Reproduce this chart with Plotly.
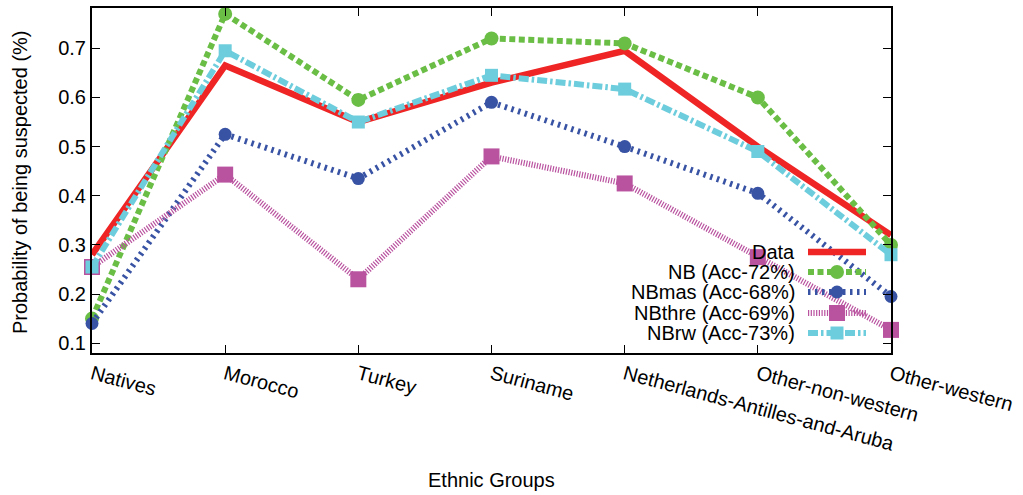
import plotly.graph_objects as go

categories = ["Natives", "Morocco", "Turkey", "Suriname",
              "Netherlands-Antilles-and-Aruba", "Other-non-western", "Other-western"]
data_vals = [0.28, 0.665, 0.55, 0.63, 0.695, 0.50, 0.32]
nb_vals = [0.15, 0.77, 0.595, 0.72, 0.71, 0.60, 0.30]
nbmas_vals = [0.14, 0.525, 0.435, 0.59, 0.50, 0.405, 0.195]
nbthre_vals = [0.255, 0.443, 0.23, 0.48, 0.425, 0.275, 0.127]
nbrw_vals = [0.255, 0.695, 0.55, 0.645, 0.617, 0.49, 0.28]
series_names = ["Data", "NB (Acc-72%)", "NBmas (Acc-68%)", "NBthre (Acc-69%)", "NBrw (Acc-73%)"]
y_ticks = [0.1, 0.2, 0.3, 0.4, 0.5, 0.6, 0.7]

styles = [
    dict(color="#ee2524", width=6.5, dash="solid", symbol=None, msize=0),
    dict(color="#6abd45", width=6, dash="6px,3.5px", symbol="circle", msize=14),
    dict(color="#3953a4", width=6, dash="2.5px,4.5px", symbol="circle", msize=13),
    dict(color="#b9529f", width=6, dash="1.2px,1.5px", symbol="square", msize=16),
    dict(color="#6dcddc", width=6, dash="10px,3px,2.5px,3px", symbol="square", msize=13),
]
all_vals = [data_vals, nb_vals, nbmas_vals, nbthre_vals, nbrw_vals]

FONT = "Liberation Sans, Arial, Helvetica, sans-serif"
fig = go.Figure()
xs = list(range(len(categories)))
for name, vals, st in zip(series_names, all_vals, styles):
    mode = "lines" if st["symbol"] is None else "lines+markers"
    fig.add_trace(go.Scatter(
        x=xs, y=vals, name=name, mode=mode, cliponaxis=False,
        line=dict(color=st["color"], width=st["width"], dash=st["dash"]),
        marker=dict(symbol=st["symbol"] or "circle", size=st["msize"], color=st["color"]),
        showlegend=False))

# custom legend (gnuplot style: text right-aligned, sample on the right)
L, R, T, B = 92, 891, 8, 353
W, H = R - L, B - T
row_y = [252, 272, 292, 313, 333]
for i, (name, st) in enumerate(zip(series_names, styles)):
    yy = (B - row_y[i]) / H
    x0, x1, xm = (808 - L) / W, (866 - L) / W, (837 - L) / W
    fig.add_trace(go.Scatter(
        x=[x0, x1], y=[yy, yy], mode="lines", xaxis="x2", yaxis="y2",
        line=dict(color=st["color"], width=st["width"], dash=st["dash"]),
        showlegend=False, hoverinfo="skip"))
    if st["symbol"]:
        fig.add_trace(go.Scatter(
            x=[xm], y=[yy], mode="markers", xaxis="x2", yaxis="y2",
            marker=dict(symbol=st["symbol"], size=st["msize"], color=st["color"]),
            showlegend=False, hoverinfo="skip"))
    fig.add_annotation(x=(797 - L) / W, y=yy, xref="paper", yref="paper",
                       text=name, showarrow=False, xanchor="right", yanchor="middle",
                       font=dict(size=20, color="black", family=FONT))

# axis titles as annotations
fig.add_annotation(x=0.5, y=(B - 480) / H, xref="paper", yref="paper",
                   text="Ethnic Groups", showarrow=False, xanchor="center", yanchor="middle",
                   font=dict(size=20, color="black", family=FONT))
fig.add_annotation(x=(20 - L) / W, y=(B - 182) / H, xref="paper", yref="paper",
                   text="Probability of being suspected (%)", showarrow=False, textangle=-90,
                   xanchor="center", yanchor="middle",
                   font=dict(size=20, color="black", family=FONT))

fig.update_layout(
    width=1023, height=495,
    margin=dict(l=L, r=1023 - R, t=T, b=495 - B),
    paper_bgcolor="white", plot_bgcolor="white",
    font=dict(family=FONT, size=20, color="black"),
    xaxis=dict(
        tickmode="array", tickvals=xs, ticktext=categories, range=[0, 6],
        tickangle=15, ticks="inside", ticklen=8, tickwidth=1, tickcolor="black",
        showline=True, linecolor="black", linewidth=2, mirror="ticks",
        showgrid=False, zeroline=False, automargin=False,
    ),
    yaxis=dict(
        tickmode="array", tickvals=y_ticks, ticktext=[f"{v:.1f}" for v in y_ticks],
        range=[0.08, 0.782],
        ticks="inside", ticklen=8, tickwidth=1, tickcolor="black",
        showline=True, linecolor="black", linewidth=2, mirror="ticks",
        showgrid=False, zeroline=False, automargin=False,
    ),
    xaxis2=dict(overlaying="x", range=[0, 1], visible=False, domain=[0, 1]),
    yaxis2=dict(overlaying="y", range=[0, 1], visible=False),
    showlegend=False,
)

fig.write_html("out.html", config={"displayModeBar": False},
               post_script="document.body.style.margin='0px';document.body.style.overflow='hidden';")
